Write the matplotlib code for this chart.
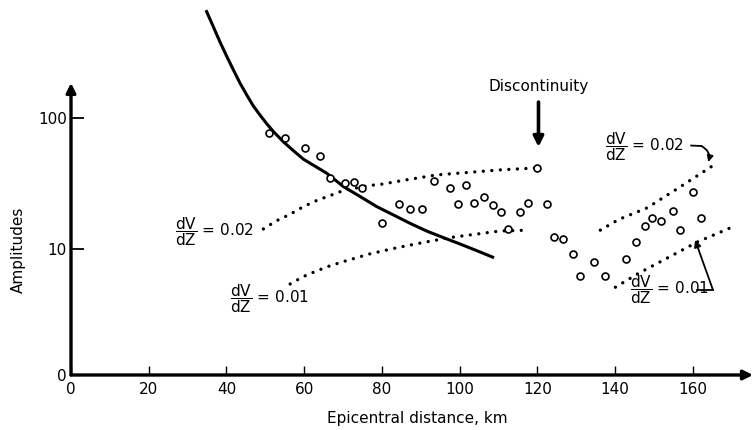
import matplotlib
matplotlib.use("Agg")
from matplotlib import pyplot as plt
from matplotlib.ticker import NullLocator

plt.rcParams['font.family'] = 'DejaVu Sans'
plt.rcParams['mathtext.fontset'] = 'dejavusans'

# observed amplitudes (open circles)
obs_dist = [50.9, 55.0, 60.1, 64.0, 66.6, 70.5, 72.8, 75.0, 80.0, 84.5,
            87.2, 90.2, 93.3, 97.6, 101.7, 99.6, 103.8, 106.3, 108.6, 110.6,
            112.5, 115.6, 117.6, 120.0, 122.4, 124.2, 126.7, 129.3, 131.1, 134.7,
            137.3, 142.7, 145.5, 147.8, 149.6, 151.9, 154.8, 156.8, 160.0, 162.0]
obs_amp = [76.8, 70.3, 59.0, 51.3, 34.8, 31.6, 32.5, 29.1, 15.9, 22.2,
           20.2, 20.2, 32.8, 29.2, 30.8, 22.0, 22.6, 24.7, 21.8, 19.2,
           14.2, 19.2, 22.4, 41.5, 22.0, 12.3, 11.9, 9.15, 6.2, 7.97,
           6.2, 8.4, 11.2, 14.9, 17.2, 16.4, 19.5, 13.9, 27.2, 17.2]

# solid curve
curve_dist = [34.9, 36.6, 38.3, 40.1, 41.8, 43.5, 45.2, 46.9, 48.6, 50.4,
              52.1, 54.6, 57.2, 59.8, 65.8, 70.1, 74.4, 78.7, 82.9, 87.2,
              91.5, 95.8, 100.1, 104.4, 108.5]
curve_amp = [648, 498, 382, 294, 232, 184, 150, 123.5, 105.4, 90.0,
             78.6, 65.9, 56.3, 48.4, 37.8, 29.9, 25.1, 21.0, 18.2, 15.7,
             13.7, 12.2, 10.9, 9.7, 8.65]

# dotted curves, dV/dZ = 0.02 and 0.01, before and after the discontinuity
d02a_dist = [49.5, 52.9, 56.4, 59.8, 63.2, 66.6, 70.1, 76.5, 80.0, 86.4, 94.1, 110.4, 120.0]
d02a_amp = [14.2, 16.4, 18.4, 21.0, 23.4, 25.5, 27.9, 30.4, 31.2, 33.7, 36.7, 40.1, 41.5]
d01a_dist = [56.4, 59.8, 63.2, 66.6, 70.1, 76.9, 83.8, 90.7, 97.5, 110.4, 117.7]
d01a_amp = [5.40, 6.15, 6.79, 7.42, 8.00, 9.16, 10.2, 11.2, 12.2, 13.7, 13.9]
d02b_dist = [136.2, 141.0, 148.3, 156.8, 166.3]
d02b_amp = [13.9, 16.8, 20.6, 29.8, 45.4]
d01b_dist = [140.1, 146.0, 152.4, 161.2, 170.2]
d01b_amp = [5.1, 6.5, 8.2, 11.3, 14.7]

x_ticks = [0, 20, 40, 60, 80, 100, 120, 140, 160]
y_ticks = [1.09, 10, 100]
y_ticklabels = ['0', '10', '100']

fig = plt.figure(figsize=(7.53, 4.30), dpi=100)
ax = fig.add_axes([71 / 753, 55 / 430, 682 / 753, 375 / 430])
ax.set_yscale('log')
ax.set_xlim(0, 175.5)
ax.set_ylim(1.09, 794)
for s in ax.spines.values():
    s.set_visible(False)

# axes drawn as arrows
ax.annotate('', xy=(0, 185), xytext=(0, 1.09), annotation_clip=False,
            arrowprops=dict(arrowstyle='-|>', lw=2.4, color='k', mutation_scale=14,
                            shrinkA=0, shrinkB=0))
ax.annotate('', xy=(175.5, 1.09), xytext=(0, 1.09), annotation_clip=False,
            arrowprops=dict(arrowstyle='-|>', lw=2.4, color='k', mutation_scale=14,
                            shrinkA=0, shrinkB=0))

ax.set_xticks(x_ticks)
ax.set_xticklabels([str(t) for t in x_ticks])
ax.set_yticks(y_ticks)
ax.set_yticklabels(y_ticklabels)
ax.yaxis.set_minor_locator(NullLocator())
ax.tick_params(axis='x', direction='in', length=6.5, width=1, pad=5, labelsize=11)
ax.tick_params(axis='y', direction='in', length=9, width=1.3, pad=3, labelsize=11)

dots = dict(color='k', lw=2.4, linestyle=(0, (0.01, 2.55)), dash_capstyle='round')
ax.plot(d02a_dist, d02a_amp, **dots)
ax.plot(d01a_dist, d01a_amp, **dots)
ax.plot(d02b_dist, d02b_amp, **dots)
ax.plot(d01b_dist, d01b_amp, **dots)

ax.plot(curve_dist, curve_amp, color='k', lw=2.2, clip_on=False)
ax.plot(obs_dist, obs_amp, linestyle='none', marker='o', markersize=5,
        markerfacecolor='white', markeredgecolor='k', markeredgewidth=1.2)

frac = r'$\dfrac{\mathrm{dV}}{\mathrm{dZ}}$'
ax.text(26.8, 13.5, frac + ' = 0.02', ha='left', va='center', fontsize=11)
ax.text(40.9, 4.2, frac + ' = 0.01', ha='left', va='center', fontsize=11)
ax.text(137.4, 60.1, frac + ' = 0.02', ha='left', va='center', fontsize=11)
ax.text(143.8, 4.86, frac + ' = 0.01', ha='left', va='center', fontsize=11)

# pointers for the right-hand labels
ax.plot([159.6, 162.2], [61.5, 61.0], color='k', lw=1.3)
ax.annotate('', xy=(164.0, 46.0), xytext=(162.2, 61.0),
            arrowprops=dict(arrowstyle='-|>', lw=1.3, color='k', mutation_scale=9,
                            shrinkA=0, shrinkB=0, connectionstyle='arc3,rad=-0.4'))
ax.plot([161.0, 165.2], [4.86, 4.86], color='k', lw=1.3)
ax.annotate('', xy=(160.6, 11.7), xytext=(165.2, 4.86),
            arrowprops=dict(arrowstyle='-|>', lw=1.3, color='k', mutation_scale=10,
                            shrinkA=0, shrinkB=0))

ax.text(120.3, 175, 'Discontinuity', ha='center', va='center', fontsize=11)
ax.annotate('', xy=(120.3, 60), xytext=(120.3, 132),
            arrowprops=dict(arrowstyle='-|>', lw=2.6, color='k', mutation_scale=15,
                            shrinkA=0, shrinkB=0))

fig.text(417 / 753, 1 - 418 / 430, 'Epicentral distance, km', ha='center', va='center',
         fontsize=11)
fig.text(18 / 753, 1 - 250 / 430, 'Amplitudes', ha='center', va='center',
         rotation=90, fontsize=11)

fig.savefig('out.png', dpi=100)
